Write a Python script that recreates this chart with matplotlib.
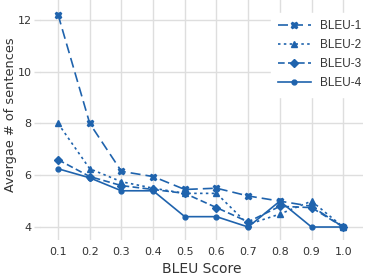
import matplotlib
matplotlib.use('Agg')
import matplotlib.pyplot as plt

# данные
bleu_x = [0.1, 0.2, 0.3, 0.4, 0.5, 0.6, 0.7, 0.8, 0.9, 1.0]
bleu1 = [12.2, 8.0, 6.15, 5.95, 5.45, 5.5, 5.2, 5.0, 4.8, 4.0]
bleu2 = [8.0, 6.25, 5.75, 5.5, 5.3, 5.3, 4.1, 4.5, 5.0, 4.0]
bleu3 = [6.6, 5.95, 5.6, 5.45, 5.3, 4.75, 4.2, 4.8, 4.75, 4.0]
bleu4 = [6.25, 5.9, 5.4, 5.4, 4.4, 4.4, 4.0, 5.0, 4.0, 4.0]
series_names = ['BLEU-1', 'BLEU-2', 'BLEU-3', 'BLEU-4']

color = '#1f63ad'
grid_color = '#dedede'

fig = plt.figure(figsize=(3.74, 2.8), dpi=100)
ax = fig.add_axes([0.107, 0.143, 0.864, 0.857])

ax.plot(bleu_x, bleu1, color=color, lw=1.2, dashes=(6, 3), marker='X', ms=5, label=series_names[0])
ax.plot(bleu_x, bleu2, color=color, lw=1.2, dashes=(1.5, 2), marker='^', ms=4, label=series_names[1])
ax.plot(bleu_x, bleu3, color=color, lw=1.2, dashes=(4, 2), marker='D', ms=4, label=series_names[2])
ax.plot(bleu_x, bleu4, color=color, lw=1.2, marker='o', ms=3.5, label=series_names[3])

ax.set_xlim(0.043, 1.063)
ax.set_ylim(3.5, 12.77)
ax.set_xticks(bleu_x)
ax.set_xticklabels(['%.1f' % v for v in bleu_x])
ax.set_yticks([4, 6, 8, 10, 12])

ax.grid(True, color=grid_color, lw=1)
ax.set_axisbelow(True)
for s in ax.spines.values():
    s.set_visible(False)
ax.tick_params(axis='x', length=0, pad=5, labelsize=8, colors='#333333')
ax.tick_params(axis='y', length=4, width=1, color=grid_color, pad=2, labelsize=8, labelcolor='#333333')

ax.set_xlabel('BLEU Score', fontsize=10, color='#333333', labelpad=4)
ax.set_ylabel('Avergae # of sentences', fontsize=9.3, color='#333333')
ax.yaxis.set_label_coords(-0.072, 0.52)

leg = ax.legend(loc='upper right', bbox_to_anchor=(1.035, 0.97), frameon=True, fancybox=False,
                edgecolor='white', framealpha=1, prop={'family': 'Liberation Sans', 'size': 8.5},
                handlelength=2.8, labelspacing=0.6, borderpad=0.6)
for t in leg.get_texts():
    t.set_color('#333333')

fig.savefig('out.png', dpi=100)
